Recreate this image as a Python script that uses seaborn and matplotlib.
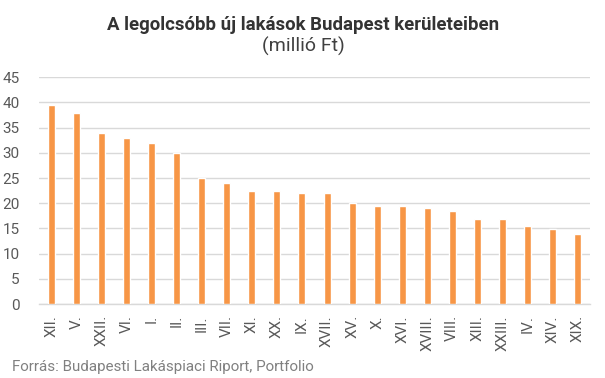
import matplotlib
matplotlib.use("Agg")
import matplotlib.pyplot as plt
import seaborn as sns
import pandas as pd

districts = ["XII.", "V.", "XXII.", "VI.", "I.", "II.", "III.", "VII.", "XI.", "XX.", "IX.",
             "XVII.", "XV.", "X.", "XVI.", "XVIII.", "VIII.", "XIII.", "XXIII.", "IV.", "XIV.", "XIX."]
prices = [39.5, 37.9, 34.0, 33.0, 32.0, 30.0, 25.0, 24.0, 22.4, 22.4, 22.1,
          22.1, 20.0, 19.5, 19.5, 19.1, 18.5, 16.9, 16.9, 15.5, 14.9, 13.9]
yticks = [0, 5, 10, 15, 20, 25, 30, 35, 40, 45]

df = pd.DataFrame({"district": districts, "price": prices})

sns.set_theme(style="white")
plt.rcParams["font.family"] = ["Roboto", "DejaVu Sans"]

fig = plt.figure(figsize=(6.05, 3.78), dpi=100)
ax = fig.add_axes([39/605, (378-304)/378, 551/605, (304-77.3)/378])

sns.barplot(data=df, x="district", y="price", color="#F79646", saturation=1,
            width=0.28, ax=ax, zorder=3)

ax.set_ylim(0, 45)
ax.set_xlim(-0.5, len(districts) - 0.5)
ax.set_yticks(yticks)
ax.yaxis.grid(True, color="#D9D9D9", linewidth=1, zorder=0)
ax.xaxis.grid(False)
for s in ["top", "right", "left"]:
    ax.spines[s].set_visible(False)
ax.spines["bottom"].set_color("#D9D9D9")
ax.spines["bottom"].set_linewidth(1)
ax.set_xlabel("")
ax.set_ylabel("")
ax.tick_params(axis="y", labelsize=11, colors="#595959", length=0, pad=14)
ax.tick_params(axis="x", labelsize=11, colors="#595959", length=0, pad=8)
for lbl in ax.get_yticklabels():
    lbl.set_horizontalalignment("right")
plt.setp(ax.get_xticklabels(), rotation=90, va="top", ha="center")

fig.text(303/605, 1 - 30/378, "A legolcsóbb új lakások Budapest kerületeiben", ha="center", va="baseline",
         fontsize=13.4, fontweight="bold", color="#333333")
fig.text(303/605, 1 - 52/378, "(millió Ft)", ha="center", va="baseline",
         fontsize=14, color="#404040")
fig.text(12/605, 1 - 367/378, "Forrás: Budapesti Lakáspiaci Riport, Portfolio", ha="left", va="center",
         fontsize=10.9, color="#808080")

fig.savefig("out.png", dpi=100)
